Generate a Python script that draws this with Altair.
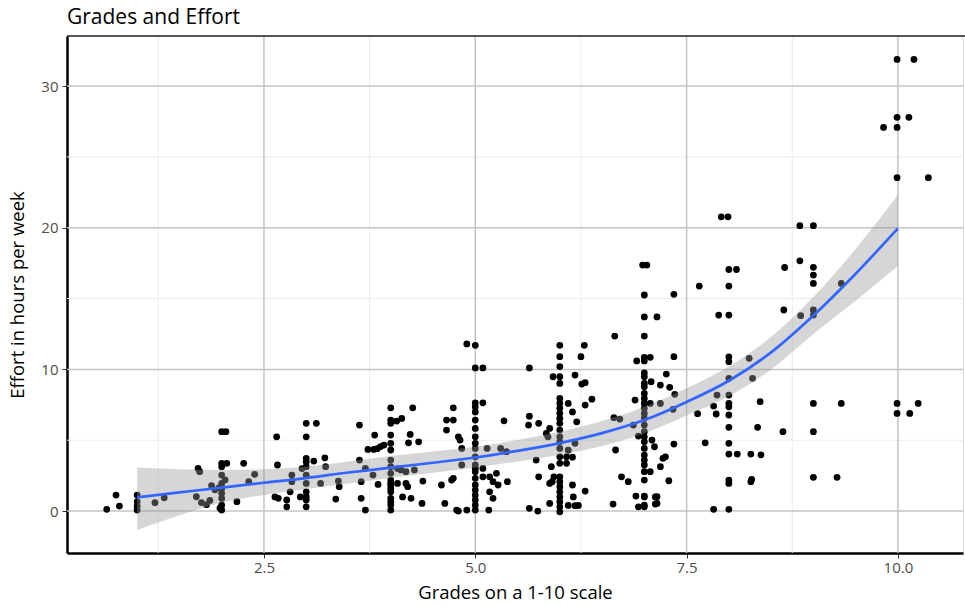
import altair as alt
import pandas as pd

# ---- scatter points (grade, effort) ----
grade = [
    0.64, 0.75, 0.79, 1.0, 1.0, 1.0, 1.0, 1.21, 1.32,
    1.72, 1.74, 1.70, 1.76, 1.82, 1.86, 1.88, 1.92, 1.97,
    2.0, 2.05, 2.0, 2.0, 2.0, 2.0, 2.0, 2.0, 2.0, 2.0, 2.0, 1.98,
    2.06, 2.26, 2.39, 2.32, 2.18, 2.04,
    2.65, 2.66, 2.63, 2.67, 2.77, 2.77, 2.83, 2.83, 2.81,
    3.0, 3.0, 3.0, 3.0, 3.0, 3.0, 3.0, 3.0, 3.0, 3.0, 3.0,
    2.93, 2.95,
    3.12, 3.09, 3.22, 3.23, 3.17, 3.38, 3.39, 3.35,
    3.63, 3.63, 3.65, 3.70, 3.65, 3.70,
    3.73, 3.80, 3.84, 3.88, 3.92, 3.81, 3.79, 3.85,
    4.0, 4.0, 4.0, 4.0, 4.0, 4.0, 4.0, 4.0, 4.0, 4.0, 4.0, 4.0, 4.0, 4.0, 4.0, 4.0, 4.0, 4.0,
    4.13, 4.07, 4.26, 4.23, 4.21, 4.33,
    4.08, 4.12, 4.18, 4.28,
    4.08, 4.18, 4.20, 4.14, 4.24, 4.37, 4.38, 4.60, 4.64,
    4.66, 4.74, 4.74, 4.66, 4.72, 4.74, 4.78,
    4.80, 4.82, 4.84, 4.84, 4.80, 4.90,
    4.90, 5.0, 5.0, 5.09,
    5.0, 5.0, 5.0, 5.0, 5.0, 5.0, 5.0, 5.0, 5.0, 5.0, 5.0, 5.0, 5.0, 5.0, 5.0, 5.0, 5.0, 5.0, 5.0,
    5.09, 5.14, 5.09, 5.09, 5.17, 5.21, 5.25, 5.27, 5.17, 5.21, 5.16,
    5.30, 5.37, 5.38, 5.34,
    5.64, 5.64, 5.63, 5.75, 5.72, 5.75, 5.64, 5.74,
    5.84, 5.86, 5.88, 5.90, 5.88, 5.88,
    6.0, 6.0, 6.0, 6.0, 6.0, 6.0, 6.0, 6.0, 6.0, 6.0, 6.0, 6.0, 6.0, 6.0, 6.0, 6.0, 6.0, 6.0, 6.0, 6.0, 6.0, 6.0, 6.0, 6.0, 6.0,
    5.92, 5.93, 5.91,
    6.10, 6.15, 6.20, 6.18, 6.25, 6.29, 6.26, 6.30, 6.30, 6.38,
    6.18, 6.10, 6.08, 6.15, 6.08, 6.15, 6.16, 6.30, 6.10, 6.18, 6.22,
    6.65, 6.91, 6.89, 6.64, 6.71, 6.87, 6.93, 6.66, 6.73, 6.81, 6.90, 6.63, 6.93,
    6.98, 7.03,
    7.0, 7.0, 7.0, 7.0, 7.0, 7.0, 7.0, 7.0, 7.0, 7.0, 7.0, 7.0, 7.0, 7.0, 7.0, 7.0, 7.0, 7.0, 7.0, 7.0, 7.0, 7.0, 7.0, 7.0, 7.0, 7.0, 7.0,
    7.07, 7.08, 7.07, 7.09, 7.12, 7.07, 7.13, 7.15, 7.15, 7.19, 7.19, 7.22, 7.25, 7.19, 7.29, 7.26, 7.30, 7.35, 7.35, 7.36, 7.34, 7.35,
    7.0, 7.15, 7.0, 7.13,
    7.65, 7.63, 7.72, 7.82, 7.86, 7.85, 7.82, 7.88,
    7.91, 7.99,
    8.0, 8.0, 8.0, 8.0, 8.0, 8.0, 8.0, 8.0, 8.0, 8.0, 8.0, 8.0, 8.0, 8.0, 8.0, 8.0,
    8.09, 8.10, 8.26, 8.38, 8.27, 8.26, 8.24, 8.28, 8.37, 8.34,
    8.64, 8.66, 8.65,
    8.84, 8.85, 8.84, 9.0,
    9.0, 9.0, 9.0, 9.0, 9.0, 9.0, 9.0, 9.0,
    9.33, 9.33, 9.28,
    9.99, 10.19, 9.99, 10.13, 9.83, 9.99, 9.99, 10.36, 9.99, 10.24, 9.99, 10.14,
]
effort = [
    0.12, 1.13, 0.35, 1.13, 0.66, 0.35, 0.07, 0.59, 0.94,
    3.01, 2.78, 1.01, 0.60, 0.45, 0.75, 1.80, 1.50, 1.65,
    5.60, 5.60, 3.37, 3.13, 2.54, 1.95, 1.60, 1.25, 0.89, 0.42, 0.07, 0.20,
    3.37, 3.37, 2.59, 2.07, 0.66, 2.20,
    5.24, 3.25, 1.00, 0.90, 0.78, 0.30, 2.54, 2.07, 1.36,
    6.19, 5.24, 3.72, 3.48, 3.13, 2.54, 1.95, 1.36, 1.01, 0.78, 0.30,
    1.00, 3.00,
    6.19, 3.53, 3.76, 3.13, 1.95, 2.12, 1.72, 0.85,
    6.07, 3.60, 2.07, 3.01, 0.90, 0.07,
    4.35, 4.35, 4.40, 4.55, 4.66, 5.36, 2.54, 1.88,
    7.29, 6.42, 6.19, 5.36, 4.78, 4.31, 3.60, 3.13, 2.66, 2.19, 1.95, 1.84, 1.60, 1.36, 0.90, 0.66, 0.42, 0.07,
    6.54, 6.35, 7.29, 5.41, 4.82, 4.89,
    3.00, 2.90, 2.78, 2.90,
    1.95, 1.95, 1.72, 1.00, 0.90, 0.54, 2.12, 1.84, 0.54,
    6.42, 6.42, 7.29, 5.72, 2.19, 2.31, 0.07,
    5.24, 5.01, 4.42, 3.25, 0.00, 0.07,
    11.80, 11.70, 10.10, 10.10,
    7.64, 7.36, 7.00, 6.42, 5.83, 5.24, 4.78, 4.42, 3.83, 3.25, 3.01, 2.78, 2.31, 1.84, 1.48, 1.13, 0.78, 0.42, 0.07,
    7.64, 4.42, 3.01, 2.42, 2.42, 2.07, 2.66, 1.84, 1.36, 0.90, 0.07,
    4.42, 4.19, 2.07, 6.37,
    10.10, 6.70, 6.07, 6.19, 3.60, 2.42, 0.19, 0.00,
    5.48, 5.24, 5.83, 3.13, 1.95, 0.54,
    11.70, 10.90, 10.20, 9.48, 9.01, 7.95, 7.60, 7.25, 6.90, 6.54, 6.19, 5.72, 5.24, 4.89, 4.42, 3.83, 3.37, 2.42, 2.07, 1.72, 1.36, 1.00, 0.66, 0.30, -0.05,
    9.48, 2.42, 2.07,
    7.60, 7.00, 6.30, 9.60, 10.90, 11.70, 8.96, 9.06, 7.48, 7.90,
    4.78, 4.30, 3.83, 3.80, 3.37, 1.84, 1.00, 1.41, 0.40, 0.38, 0.40,
    12.35, 10.60, 7.83, 6.59, 6.49, 6.07, 5.29, 4.31, 2.42, 2.07, 1.06, 0.49, 0.30,
    17.36, 17.36,
    15.25, 13.70, 12.35, 10.85, 10.60, 9.76, 9.48, 9.01, 8.77, 8.30, 7.95, 7.60, 7.25, 6.89, 6.54, 6.07, 5.60, 5.24, 4.89, 4.42, 3.95, 3.60, 3.25, 2.78, 2.19, 1.00, 0.42,
    10.85, 9.13, 7.60, 5.01, 4.54, 2.78, 1.00, 0.54, 13.70, 8.89, 7.60, 3.72, 3.83, 3.13, 2.14, 9.67, 8.73, 15.30, 10.90, 8.24, 7.18, 4.73,
    1.06, 1.01, 0.30, 0.49,
    15.88, 6.87, 4.82, 7.41, 8.19, 6.85, 0.12, 13.83,
    20.77, 20.77,
    17.05, 15.88, 13.83, 10.89, 10.54, 9.37, 8.19, 7.60, 7.36, 6.78, 5.91, 4.78, 4.02, 2.19, 1.95, 0.12,
    17.05, 4.02, 4.02, 3.97, 2.24, 2.07, 10.78, 9.37, 7.72, 5.91,
    5.60, 17.19, 14.19,
    17.66, 13.79, 20.14, 20.14,
    17.20, 16.66, 16.07, 14.19, 13.83, 7.60, 5.60, 2.38,
    16.07, 7.60, 2.38,
    31.88, 31.88, 27.79, 27.79, 27.08, 27.08, 23.53, 23.53, 7.60, 7.60, 6.89, 6.89,
]

# ---- smoothed fit and its confidence band ----
smooth_x = [1, 1.5, 2, 2.5, 3, 3.5, 4, 4.5, 5, 5.5, 6, 6.5, 7, 7.5, 8, 8.5, 9, 9.5, 10]
smooth_fit = [0.97, 1.32, 1.65, 2.0, 2.33, 2.72, 3.06, 3.41, 3.78, 4.25, 4.8, 5.5, 6.42, 7.7, 9.2, 11.2, 13.8, 16.75, 19.95]
smooth_lo = [-1.34, -0.3, 0.6, 1.13, 1.55, 1.95, 2.33, 2.7, 3.08, 3.5, 3.98, 4.6, 5.5, 6.75, 8.1, 10.0, 12.5, 14.85, 17.3]
smooth_hi = [3.08, 2.95, 2.9, 2.95, 3.13, 3.5, 3.88, 4.2, 4.54, 5.02, 5.6, 6.35, 7.36, 8.66, 10.2, 12.3, 15.1, 18.5, 22.3]

# ---- axis ticks / grid positions ----
x_major = [2.5, 5.0, 7.5, 10.0]
x_minor = [1.25, 3.75, 6.25, 8.75]
y_major = [0, 10, 20, 30]
y_minor = [5, 15, 25]

FONT = "Open Sans"
W, H = 896, 517

pts = pd.DataFrame({"grade": grade, "effort": effort})
smooth = pd.DataFrame({"x": smooth_x, "fit": smooth_fit, "lo": smooth_lo, "hi": smooth_hi})

xs = alt.Scale(domain=[0.17, 10.77], nice=False, zero=False)
ys = alt.Scale(domain=[-2.96, 33.53], nice=False, zero=False)

xaxis = alt.Axis(values=x_major, format=".1f", grid=False, domainColor="black", domainWidth=2.5,
                 tickColor="#333333", tickSize=5, tickWidth=1, labelColor="#4d4d4d",
                 labelFontSize=15, labelFont=FONT, labelPadding=2, titleFont=FONT,
                 titleFontSize=18.5, titleFontWeight="normal", titleColor="black", titlePadding=8)
yaxis = alt.Axis(values=y_major, format="d", grid=False, domainColor="black", domainWidth=2.5,
                 tickColor="#333333", tickSize=5, tickWidth=1, labelColor="#4d4d4d",
                 labelFontSize=15, labelFont=FONT, labelPadding=4, titleFont=FONT,
                 titleFontSize=18.5, titleFontWeight="normal", titleColor="black", titlePadding=13)

XT = "Grades on a 1-10 scale"
YT = "Effort in hours per week"


def X(field):
    return alt.X(field, type="quantitative", scale=xs, axis=xaxis, title=XT)


def Y(field):
    return alt.Y(field, type="quantitative", scale=ys, axis=yaxis, title=YT)


vminor = alt.Chart(pd.DataFrame({"v": x_minor})).mark_rule(color="#ebebeb", strokeWidth=1).encode(x=X("v"))
hminor = alt.Chart(pd.DataFrame({"h": y_minor})).mark_rule(color="#ebebeb", strokeWidth=1).encode(y=Y("h"))
vmajor = alt.Chart(pd.DataFrame({"v": x_major})).mark_rule(color="#c4c4c4", strokeWidth=1.5).encode(x=X("v"))
hmajor = alt.Chart(pd.DataFrame({"h": y_major})).mark_rule(color="#c4c4c4", strokeWidth=1.5).encode(y=Y("h"))

points = alt.Chart(pts).mark_circle(size=46, color="black", opacity=1).encode(x=X("grade"), y=Y("effort"))

band = alt.Chart(smooth).mark_area(color="#999999", opacity=0.4, interpolate="monotone").encode(
    x=X("x"), y=Y("lo"), y2="hi")
line = alt.Chart(smooth).mark_line(color="#3366FF", strokeWidth=2.7, interpolate="monotone").encode(
    x=X("x"), y=Y("fit"))

topline = alt.Chart(pd.DataFrame({"t": [0]})).mark_rule(color="#222222", strokeWidth=1.3).encode(
    x=alt.value(0), x2=alt.value(W + 2), y=alt.value(0))

chart = alt.layer(vminor, hminor, vmajor, hmajor, points, band, line, topline).properties(
    width=W, height=H,
    title=alt.TitleParams("Grades and Effort", anchor="start", frame="group", font=FONT,
                          fontSize=21, fontWeight="normal", color="black", offset=7),
    autosize=alt.AutoSizeParams(type="none"),
    padding={"left": 67, "top": 36, "right": 2, "bottom": 52},
).configure_view(stroke=None).configure(background="white")

chart.save("out.html", embed_options={"renderer": "svg", "actions": False})
